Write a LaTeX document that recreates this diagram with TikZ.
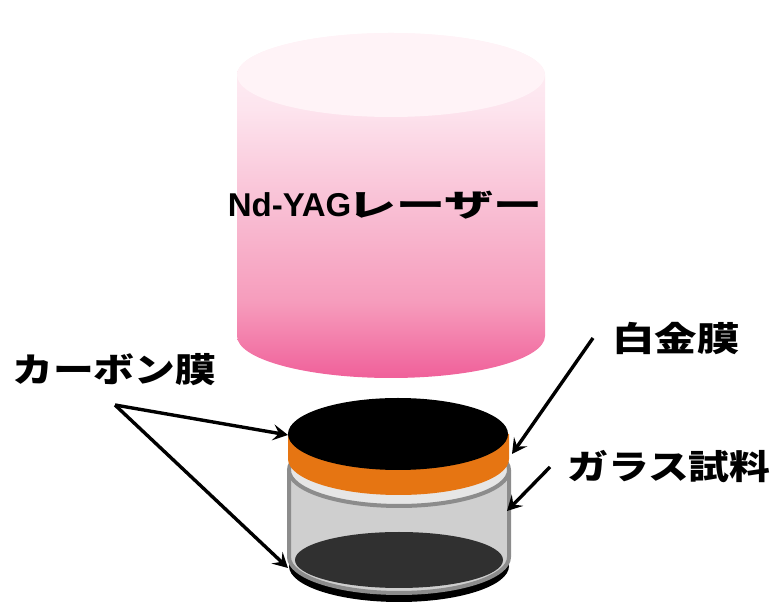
\documentclass[tikz,border=0pt]{standalone}
\usepackage{fontspec}
\setmainfont{Liberation Sans}
\newfontfamily\jp{Noto Sans CJK JP}
\usetikzlibrary{arrows.meta}

\definecolor{pkTop}{HTML}{FFF3F7}
\definecolor{pkHi}{HTML}{FDE4EE}
\definecolor{pkMid}{HTML}{F9C2D6}
\definecolor{pkLow}{HTML}{F69CBC}
\definecolor{pkBot}{HTML}{F0609A}
\definecolor{ptOrange}{HTML}{E67512}
\definecolor{glassFill}{HTML}{CFCFCF}
\definecolor{glassTop}{HTML}{E6E6E6}
\definecolor{glassRim}{HTML}{8C8C8C}
\definecolor{innerDark}{HTML}{303030}

% vertical pink gradient of the laser column (25bp = bottom, 75bp = top)
\pgfdeclareverticalshading{laserbody}{100bp}{%
  color(0bp)=(pkBot); color(25bp)=(pkBot); color(36bp)=(pkLow);
  color(51bp)=(pkMid); color(64bp)=(pkHi); color(75bp)=(pkTop);
  color(100bp)=(pkTop)}

\begin{document}
\begin{tikzpicture}[x=1pt,y=1pt,
  lbl/.style={inner sep=0pt, anchor=west, font=\jp\bfseries\fontsize{34}{38}\selectfont},
  ptr/.style={line width=3.4pt, -{Stealth[length=15pt,width=16pt,inset=6pt]}}]
\useasboundingbox (0,0) rectangle (778,604);

% laser column
\shade[shading=laserbody] (237,529) -- (237,268)
  arc[start angle=180,end angle=360,x radius=154,y radius=42]
  -- (545,529)
  arc[start angle=0,end angle=180,x radius=154,y radius=42] -- cycle;
\fill[pkTop] (391,529) ellipse[x radius=154,y radius=42];
\node[inner sep=0pt] (laser) at (385,399)
  {\fontsize{33}{36}\selectfont\bfseries Nd-YAG\kern-4pt\scalebox{1.58}[1]{\jp\fontsize{31}{36}\selectfont レーザー}};

% bottom carbon film
\fill[black] (399,38) ellipse[x radius=110,y radius=36];
% glass body
\fill[glassFill] (289,134) -- (289,47)
  arc[start angle=180,end angle=360,x radius=110,y radius=36] -- (509,134) -- cycle;
\fill[innerDark] (399,44) ellipse[x radius=104,y radius=28];
\draw[glassRim,line width=4pt] (289,134) -- (289,47)
  arc[start angle=180,end angle=360,x radius=110,y radius=36] -- (509,134);
\filldraw[fill=glassTop,draw=glassRim,line width=4pt] (399,134) ellipse[x radius=110,y radius=36];
% platinum film
\fill[ptOrange] (288,170) -- (288,145)
  arc[start angle=180,end angle=360,x radius=110.5,y radius=36] -- (509,170) -- cycle;
% top carbon film
\fill[black] (398,170) ellipse[x radius=110,y radius=36];

% labels
\node[lbl] (carbon) at (12,234) {\scalebox{1.2}[1]{カーボン膜}};
\node[lbl] (pt) at (612,265) {\scalebox{1.25}[1]{白金膜}};
\node[lbl] (glass) at (567,137) {\scalebox{1.2}[1]{ガラス試料}};

% arrow anchors
\coordinate (fork) at (115,199);
\coordinate (topC) at (288,169);
\coordinate (botC) at (288,36);
\coordinate (ptS) at (593,266);
\coordinate (ptE) at (512,150);
\coordinate (glS) at (550,137);
\coordinate (glE) at (507,93);

\draw[ptr] (fork) -- (topC);
\draw[ptr] (fork) -- (botC);
\draw[ptr] (ptS) -- (ptE);
\draw[ptr] (glS) -- (glE);
\end{tikzpicture}
\end{document}
